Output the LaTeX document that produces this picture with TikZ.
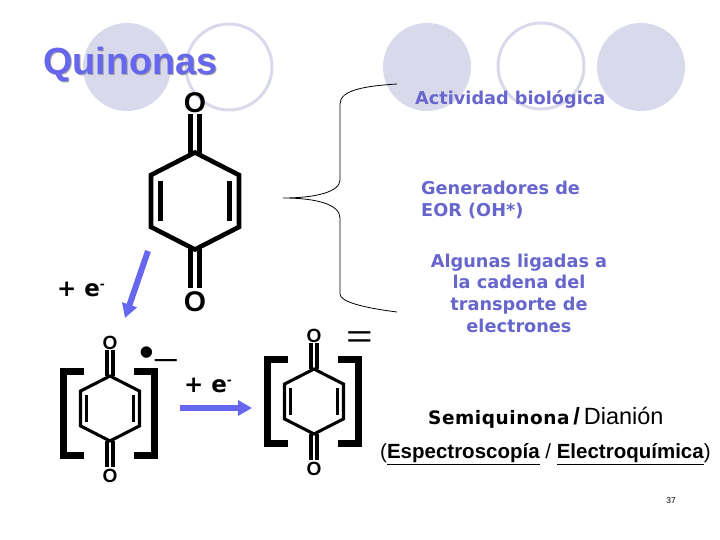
\documentclass[tikz,border=0pt]{standalone}
\usepackage{graphicx}
\usepackage{fontspec}
\setmainfont{Liberation Sans}
\newfontfamily\verdanafont{DejaVu Sans}
\newfontfamily\spacedfont[LetterSpace=3]{DejaVu Sans}
\usetikzlibrary{arrows.meta}
\definecolor{circlegray}{HTML}{D9D9EC}
\definecolor{titleblue}{HTML}{6666EE}
\definecolor{textblue}{HTML}{6666CC}
\tikzset{
    disc/.style={fill=circlegray, draw=none},
    ring/.style={draw=circlegray, line width=3pt},
    bluetext/.style={text=textblue, font=\verdanafont\bfseries\fontsize{17.7}{21.7}\selectfont, inner sep=0pt},
    electron/.style={font=\verdanafont\bfseries\fontsize{23}{23}\selectfont, inner sep=0pt},
    bluearrow/.style={draw=titleblue, line width=6pt, -{Triangle[length=14pt,width=15pt]}},
    brack/.style={line width=7pt, line cap=butt, miter limit=10},
}
% quinone ring: name, x, y, scale
\newcommand{\quinona}[4]{
    \begin{scope}[shift={(#2,#3)}, scale=#4, transform shape, line width=#4*4.6pt, line join=miter]
        \draw (0,48.5) -- (44,26) -- (44,-26) -- (0,-48.5) -- (-44,-26) -- (-44,26) -- cycle;
        \draw (-34.5,20) -- (-34.5,-20);
        \draw (34.5,20) -- (34.5,-20);
        \draw (-4.5,48) -- (-4.5,87);
        \draw (4.5,48) -- (4.5,87);
        \draw (-4.5,-48) -- (-4.5,-87);
        \draw (4.5,-48) -- (4.5,-87);
        \node[font=\bfseries\fontsize{28.5}{28.5}\selectfont, inner sep=0pt] (#1top) at (0,98.5) {O};
        \node[font=\bfseries\fontsize{28.5}{28.5}\selectfont, inner sep=0pt] (#1bot) at (0,-100.5) {O};
    \end{scope}
}
\begin{document}
\begin{tikzpicture}[x=1pt, y=1pt]
    \useasboundingbox (0,0) rectangle (720,540);
    % background circles
    \fill[disc] (127,473) circle (44);
    \draw[ring] (229,473) circle (43);
    \fill[disc] (427,473) circle (44);
    \draw[ring] (541,474) circle (43);
    \fill[disc] (641,473) circle (44);
    % title
    \node[text=black!35, font=\bfseries\fontsize{37.8}{37.8}\selectfont, inner sep=0pt] (titleshadow) at (131.5,474) {Quinonas};
    \node[text=titleblue, font=\bfseries\fontsize{37.8}{37.8}\selectfont, inner sep=0pt] (title) at (130.5,475) {Quinonas};
    % molecules
    \quinona{qa}{195}{339}{1}
    \quinona{qb}{110}{131.5}{0.67}
    \quinona{qc}{314}{138.5}{0.67}
    % brackets
    \draw[brack] (84,168.5) -- (63.5,168.5) -- (63.5,84.5) -- (84,84.5);
    \draw[brack] (134,168.5) -- (154.5,168.5) -- (154.5,84.5) -- (134,84.5);
    \draw[brack] (288,180.5) -- (267.5,180.5) -- (267.5,96.5) -- (288,96.5);
    \draw[brack] (338,180.5) -- (358.5,180.5) -- (358.5,96.5) -- (338,96.5);
    % brace
    \draw[line width=0.8pt] (397,456) .. controls (365,454) and (340,450) .. (340,436)
        -- (340,360) .. controls (340,348) and (315,342) .. (283,342)
        .. controls (315,342) and (340,336) .. (340,322)
        -- (340,246) .. controls (340,238) and (365,232) .. (397,228);
    % arrows
    \coordinate (a1) at (148,289);
    \coordinate (a2) at (125,222);
    \coordinate (b1) at (180,132);
    \coordinate (b2) at (252,132);
    \draw[bluearrow] (a1) -- (a2);
    \draw[bluearrow] (b1) -- (b2);
    % labels
    \node[bluetext, anchor=west] (actividad) at (415,441) {Actividad biológica};
    \node[bluetext, anchor=north west, align=left] (generadores) at (421,359) {Generadores de\\EOR (OH*)};
    \node[bluetext, align=center] (algunas) at (519,247) {Algunas ligadas a\\la cadena del\\transporte de\\electrones};
    \node[electron] (ea) at (81,251) {+ e\raisebox{8pt}{\fontsize{12}{12}\selectfont -}};
    \node[electron] (eb) at (208,155) {+ e\raisebox{8pt}{\fontsize{12}{12}\selectfont -}};
    \node[inner sep=0pt, anchor=west] (radical) at (139,183) {\fontsize{42}{42}\selectfont •\kern1pt\bfseries\fontsize{22}{22}\selectfont —};
    \node[font=\fontsize{38}{38}\selectfont, inner sep=0pt] (dianion) at (359.5,200) {\scalebox{1.2}[0.85]{=}};
    \node[anchor=west, inner sep=0pt, font=\fontsize{23.5}{23.5}\selectfont] (semi) at (428,122) {{\spacedfont\bfseries\fontsize{18.5}{18.5}\selectfont Semiquinona}{\bfseries\,/\,}Dianión};
    \node[anchor=west, inner sep=0pt, font=\fontsize{20.5}{20.5}\selectfont] (tecnica) at (380,86) {(\underline{\bfseries Espectroscopía} / \underline{\bfseries Electroquímica})};
    \node[font=\fontsize{8.5}{8.5}\selectfont, inner sep=0pt] (page) at (671,39) {37};
\end{tikzpicture}
\end{document}
